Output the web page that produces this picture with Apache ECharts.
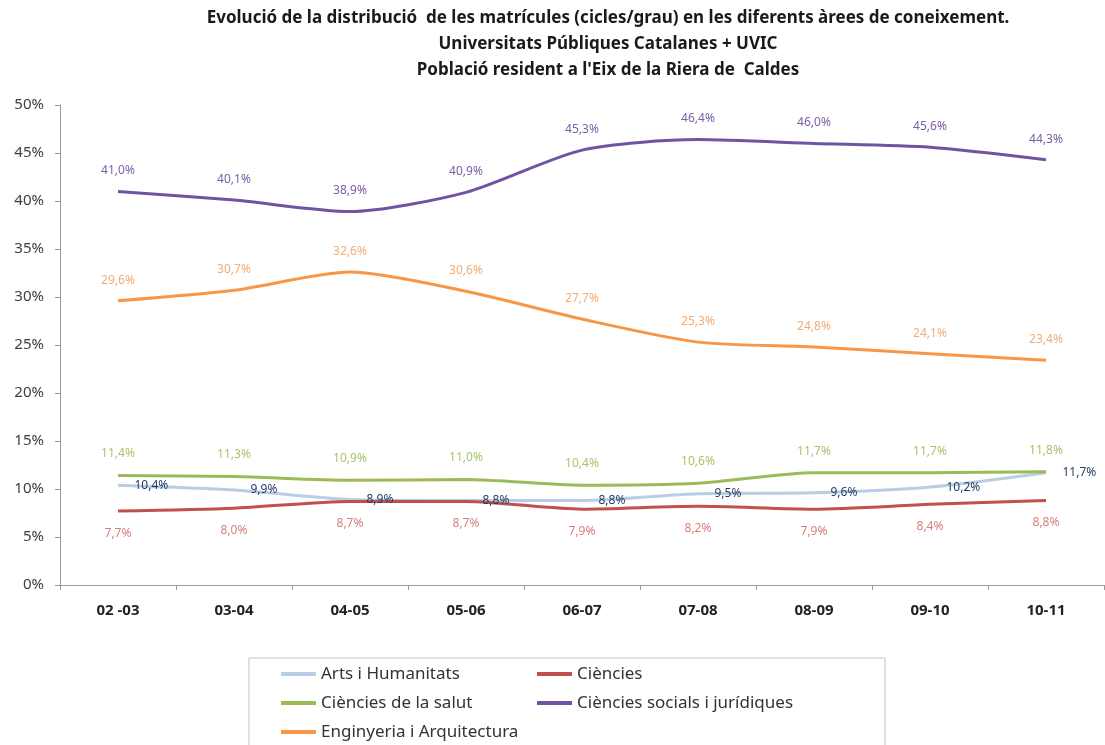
<!DOCTYPE html>
<html>
<head>
<meta charset="utf-8">
<script src="https://cdn.jsdelivr.net/npm/echarts@6/dist/echarts.min.js"></script>
<style>
  html, body { margin: 0; padding: 0; background: #fff; }
  #chart { width: 1105px; height: 745px; }
</style>
</head>
<body>
<div id="chart"></div>
<script>
// categories (cursos) and percentages per area
const categories = ["02 -03", "03-04", "04-05", "05-06", "06-07", "07-08", "08-09", "09-10", "10-11"];
const arts = [10.4, 9.9, 8.9, 8.8, 8.8, 9.5, 9.6, 10.2, 11.7];
const ciencies = [7.7, 8.0, 8.7, 8.7, 7.9, 8.2, 7.9, 8.4, 8.8];
const salut = [11.4, 11.3, 10.9, 11.0, 10.4, 10.6, 11.7, 11.7, 11.8];
const socials = [41.0, 40.1, 38.9, 40.9, 45.3, 46.4, 46.0, 45.6, 44.3];
const enginyeria = [29.6, 30.7, 32.6, 30.6, 27.7, 25.3, 24.8, 24.1, 23.4];
const titleLines = [
  "Evolució de la distribució  de les matrícules (cicles/grau) en les diferents àrees de coneixement.",
  "Universitats Públiques Catalanes + UVIC",
  "Població resident a l'Eix de la Riera de  Caldes"
];

const FONT = "'Noto Sans', 'Open Sans', sans-serif";
const pct = (p) => p.value.toFixed(1).replace(".", ",") + "%";

function makeSeries(name, data, lineColor, labelColor, position, distance) {
  return {
    name: name,
    type: "line",
    data: data,
    smooth: 0.25,
    // invisible symbols so the labels still get drawn
    symbol: "circle",
    symbolSize: 1,
    lineStyle: { color: lineColor, width: 3 },
    itemStyle: { color: "rgba(0,0,0,0)" },
    label: {
      show: true,
      position: position,
      distance: distance,
      formatter: pct,
      color: labelColor,
      fontFamily: FONT,
      fontSize: 12
    }
  };
}

const chart = echarts.init(document.getElementById("chart"));

const legendBase = {
  orient: "vertical",
  padding: 0,
  top: 664,
  itemWidth: 35,
  itemHeight: 14,
  itemGap: 9,
  lineStyle: { width: 4 },
  textStyle: { fontFamily: FONT, fontSize: 17, color: "#333", lineHeight: 20 }
};

const option = {
  animation: false,
  backgroundColor: "#fff",
  graphic: titleLines.map((t, i) => ({
    type: "text",
    x: 608,
    y: 18 + i * 26,
    style: {
      text: t,
      textAlign: "center",
      textVerticalAlign: "middle",
      font: "bold 17px " + FONT,
      fill: "#1a1a1a"
    }
  })).concat([{
    type: "rect",
    shape: { x: 249, y: 658, width: 636, height: 100 },
    style: { fill: "none", stroke: "#c4c4c4", lineWidth: 1 }
  }]),
  grid: { left: 60, right: 1, top: 105, bottom: 160 },
  xAxis: {
    type: "category",
    data: categories,
    boundaryGap: true,
    axisLine: { lineStyle: { color: "#9a9a9a" } },
    axisTick: { show: true, length: 5, lineStyle: { color: "#9a9a9a" } },
    axisLabel: { margin: 18, fontFamily: FONT, fontSize: 15, fontWeight: "bold", color: "#222" }
  },
  yAxis: {
    type: "value",
    min: 0,
    max: 50,
    interval: 5,
    splitLine: { show: false },
    axisLine: { show: true, lineStyle: { color: "#9a9a9a" } },
    axisTick: { show: true, length: 5, lineStyle: { color: "#9a9a9a" } },
    axisLabel: { formatter: "{value}%", margin: 16, fontFamily: FONT, fontSize: 15, color: "#404040" }
  },
  legend: [
    Object.assign({}, legendBase, {
      left: 279,
      data: ["Arts i Humanitats", "Ciències de la salut", "Enginyeria i Arquitectura"]
    }),
    Object.assign({}, legendBase, {
      left: 535,
      data: ["Ciències", "Ciències socials i jurídiques"]
    })
  ],
  series: [
    makeSeries("Arts i Humanitats", arts, "#b9cde5", "#1f3a5f", "right", 16),
    makeSeries("Ciències", ciencies, "#c0504d", "#d6807e", "bottom", 16),
    makeSeries("Ciències de la salut", salut, "#9bbb59", "#a9c46c", "top", 15),
    makeSeries("Ciències socials i jurídiques", socials, "#6f55a0", "#7b5ea7", "top", 14),
    makeSeries("Enginyeria i Arquitectura", enginyeria, "#f79646", "#f0ad74", "top", 14)
  ]
};

chart.setOption(option);
</script>
</body>
</html>
